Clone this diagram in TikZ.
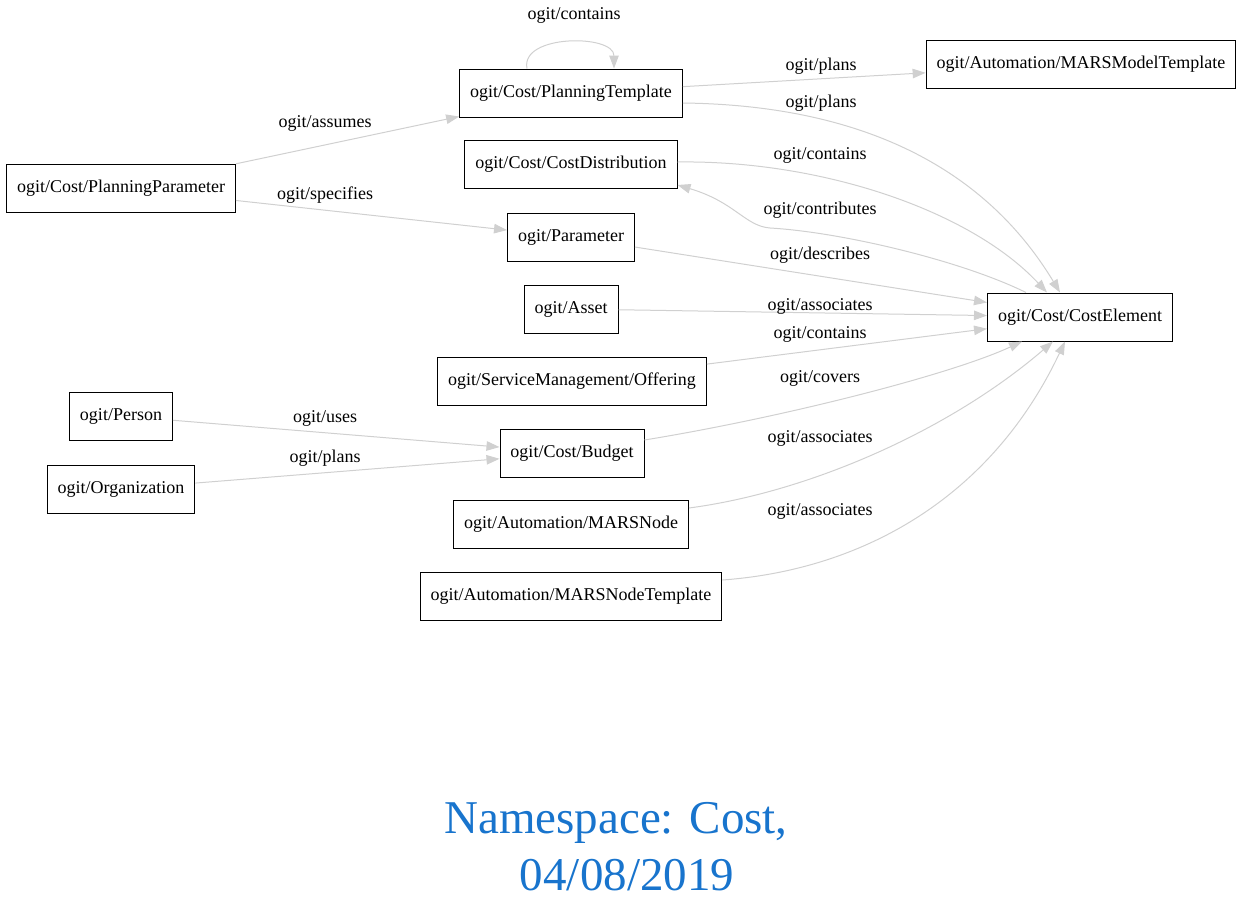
\documentclass[tikz,border=0pt]{standalone}
\usepackage{fontspec}
\setmainfont{Liberation Serif}
\usetikzlibrary{arrows.meta}
\definecolor{edgegray}{HTML}{D0D0D0}
\definecolor{titleblue}{HTML}{1874CD}
\begin{document}
\begin{tikzpicture}[x=1pt,y=-1pt,
  box/.style={draw=black,line width=1pt,fill=white,minimum height=48pt,inner xsep=10.5pt,inner ysep=0pt,font=\fontsize{18}{20}\selectfont},
  lbl/.style={inner sep=0pt,font=\fontsize{18}{20}\selectfont},
  edge/.style={draw=edgegray,line width=1pt,-{Triangle[length=13pt,width=9.5pt]},edgegray},
  ttl/.style={inner sep=0pt,text=titleblue,font=\fontsize{47}{52}\selectfont}]
\useasboundingbox (0,0) rectangle (1245,916);
% nodes
\node[box] (pp) at (121,188) {ogit/Cost/PlanningParameter};
\node[box] (pt) at (571,93) {ogit/Cost/PlanningTemplate};
\node[box] (mmt) at (1081,64) {ogit/Automation/MARSModelTemplate};
\node[box] (cd) at (571,164) {ogit/Cost/CostDistribution};
\node[box] (par) at (571,237) {ogit/Parameter};
\node[box] (asset) at (571,309) {ogit/Asset};
\node[box] (off) at (572,381) {ogit/ServiceManagement/Offering};
\node[box] (ce) at (1080,317) {ogit/Cost/CostElement};
\node[box] (person) at (121,416) {ogit/Person};
\node[box] (org) at (121,489) {ogit/Organization};
\node[box] (bud) at (572,453) {ogit/Cost/Budget};
\node[box] (mn) at (571,524) {ogit/Automation/MARSNode};
\node[box] (mnt) at (571,596) {ogit/Automation/MARSNodeTemplate};
% edges
\draw[edge] (pp) -- (pt);
\draw[edge] (pp) -- (par);
\draw[edge] ([xshift=-44pt]pt.north) .. controls (520,34) and (614,34) .. ([xshift=43pt]pt.north);
\draw[edge] (pt) -- (mmt);
\draw[edge] ([yshift=-10pt]pt.east) .. controls (850,105) and (980,160) .. ([xshift=-20pt]ce.north);
\draw[edge] ([yshift=2pt]cd.east) .. controls (820,160) and (970,210) .. ([xshift=-33pt]ce.north);
\draw[edge] ([xshift=-54pt]ce.north) .. controls (960,260) and (840,232) .. (770,228) .. controls (745,226) and (735,202) .. ([yshift=-21pt]cd.east);
\draw[edge] (par) -- (ce);
\draw[edge] (asset) -- (ce);
\draw[edge] (off) -- (ce);
\draw[edge] ([yshift=13pt]bud.east) .. controls (780,418) and (950,375) .. ([xshift=-58pt]ce.south);
\draw[edge] ([yshift=16pt]mn.east) .. controls (810,492) and (950,430) .. ([xshift=-27pt]ce.south);
\draw[edge] ([yshift=16pt]mnt.east) .. controls (860,570) and (990,500) .. ([xshift=-15pt]ce.south);
\draw[edge] (person) -- (bud);
\draw[edge] (org) -- (bud);
% labels
\node[lbl] (l1) at (574,15) {ogit/contains};
\node[lbl] (l2) at (325,123) {ogit/assumes};
\node[lbl] (l3) at (325,195) {ogit/specifies};
\node[lbl] (l4) at (821,66) {ogit/plans};
\node[lbl] (l5) at (821,103) {ogit/plans};
\node[lbl] (l6) at (820,155) {ogit/contains};
\node[lbl] (l7) at (820,210) {ogit/contributes};
\node[lbl] (l8) at (820,255) {ogit/describes};
\node[lbl] (l9) at (820,306) {ogit/associates};
\node[lbl] (l10) at (820,334) {ogit/contains};
\node[lbl] (l11) at (820,378) {ogit/covers};
\node[lbl] (l12) at (820,438) {ogit/associates};
\node[lbl] (l13) at (820,511) {ogit/associates};
\node[lbl] (l14) at (325,418) {ogit/uses};
\node[lbl] (l15) at (325,458) {ogit/plans};
% title
\node[ttl] (t1) at (616,823) {Namespace: Cost,};
\node[ttl] (t2) at (627,875) {04/08/2019};
\end{tikzpicture}
\end{document}
